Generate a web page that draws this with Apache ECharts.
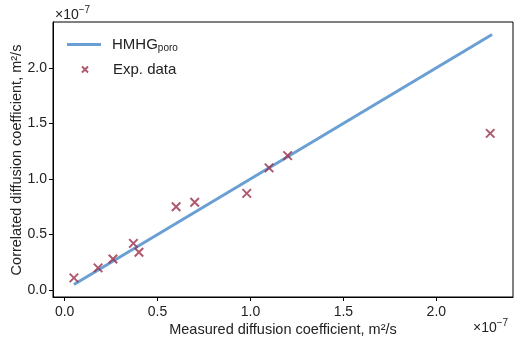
<!DOCTYPE html>
<html>
<head>
<meta charset="utf-8">
<script src="https://cdn.jsdelivr.net/npm/echarts@6/dist/echarts.min.js"></script>
<style>
  html, body { margin: 0; padding: 0; background: #fff; }
  #chart { width: 514px; height: 341px; }
</style>
</head>
<body>
<div id="chart"></div>
<script>
// values in units of 1e-7 m^2/s
const measured = [0.05, 0.18, 0.26, 0.37, 0.40, 0.60, 0.70, 0.98, 1.10, 1.20, 2.29];
const correlated = [0.11, 0.20, 0.28, 0.42, 0.34, 0.75, 0.79, 0.87, 1.10, 1.21, 1.41];
const modelLine = [[0.05, 0.05], [2.3, 2.3]];
const tickValues = [0, 0.5, 1.0, 1.5, 2.0];
const tickLabels = ["0.0", "0.5", "1.0", "1.5", "2.0"];

const FONT = "Liberation Sans";
const TEXT = "#222";
const LINE_COLOR = "#6a9fd4";
const MARK_COLOR = "#9b3049";
const crossPath = "path://M0,0L10,10M10,0L0,10";

const chart = echarts.init(document.getElementById("chart"), null, { renderer: "canvas" });

function makeAxis(margin) {
  return {
    type: "value",
    min: -0.0625,
    max: 2.4125,
    axisLine: { show: true, onZero: false, lineStyle: { color: "#000", width: 1 } },
    axisTick: { show: true, inside: false, length: 4, customValues: tickValues, lineStyle: { color: "#000" } },
    splitLine: { show: false },
    axisLabel: {
      customValues: tickValues,
      margin: margin,
      color: TEXT,
      fontFamily: FONT,
      fontSize: 14,
      formatter: (v) => tickLabels[tickValues.indexOf(v)] ?? ""
    }
  };
}

const exponentStyle = {
  text: "{a|×10}{b|−7}",
  rich: {
    a: { fontFamily: FONT, fontSize: 14, fill: TEXT, color: TEXT },
    b: { fontFamily: FONT, fontSize: 10, fill: TEXT, color: TEXT, padding: [0, 0, 9, 0] }
  }
};

const option = {
  animation: false,
  grid: { left: 53, top: 22, right: 1, bottom: 44, show: true, borderColor: "#000", borderWidth: 1 },
  xAxis: makeAxis(8),
  yAxis: makeAxis(6),
  legend: [
    {
      orient: "vertical", left: 67, top: 37, padding: 0,
      itemWidth: 34, itemHeight: 3,
      icon: "rect",
      data: ["HMHG"],
      formatter: () => "{a|HMHG}{b|poro}",
      textStyle: {
        padding: [0, 0, 0, 6],
        rich: {
          a: { fontFamily: FONT, fontSize: 15, color: TEXT },
          b: { fontFamily: FONT, fontSize: 10, color: TEXT, padding: [8, 0, 0, 0] }
        }
      }
    },
    {
      orient: "vertical", left: 81, top: 62, padding: 0,
      itemWidth: 34, itemHeight: 6,
      data: [{ name: "Exp. data", icon: crossPath }],
      textStyle: { fontFamily: FONT, fontSize: 15, color: TEXT, padding: [0, 0, 0, 6] }
    }
  ],
  series: [
    {
      name: "HMHG",
      type: "line",
      data: modelLine,
      showSymbol: false,
      lineStyle: { color: LINE_COLOR, width: 3 },
      itemStyle: { color: LINE_COLOR },
      z: 2
    },
    {
      name: "Exp. data",
      type: "scatter",
      data: measured.map((x, i) => [x, correlated[i]]),
      symbol: crossPath,
      symbolSize: 8.5,
      itemStyle: { color: "transparent", borderColor: MARK_COLOR, borderWidth: 2 },
      z: 3
    }
  ],
  graphic: [
    { type: "text", x: 55, y: 15, style: Object.assign({ textVerticalAlign: "middle" }, exponentStyle) },
    { type: "text", x: 473, y: 328, style: Object.assign({ textVerticalAlign: "middle" }, exponentStyle) },
    {
      type: "text", x: 283, y: 330,
      style: { text: "Measured diffusion coefficient, m²/s", fontFamily: FONT, fontSize: 14.5, fill: TEXT, textAlign: "center", textVerticalAlign: "middle" }
    },
    {
      type: "text", x: 9, y: 160, rotation: Math.PI / 2,
      style: { text: "Correlated diffusion coefficient, m²/s", fontFamily: FONT, fontSize: 14.5, fill: TEXT, textAlign: "center", textVerticalAlign: "top" }
    }
  ]
};

chart.setOption(option);
</script>
</body>
</html>
